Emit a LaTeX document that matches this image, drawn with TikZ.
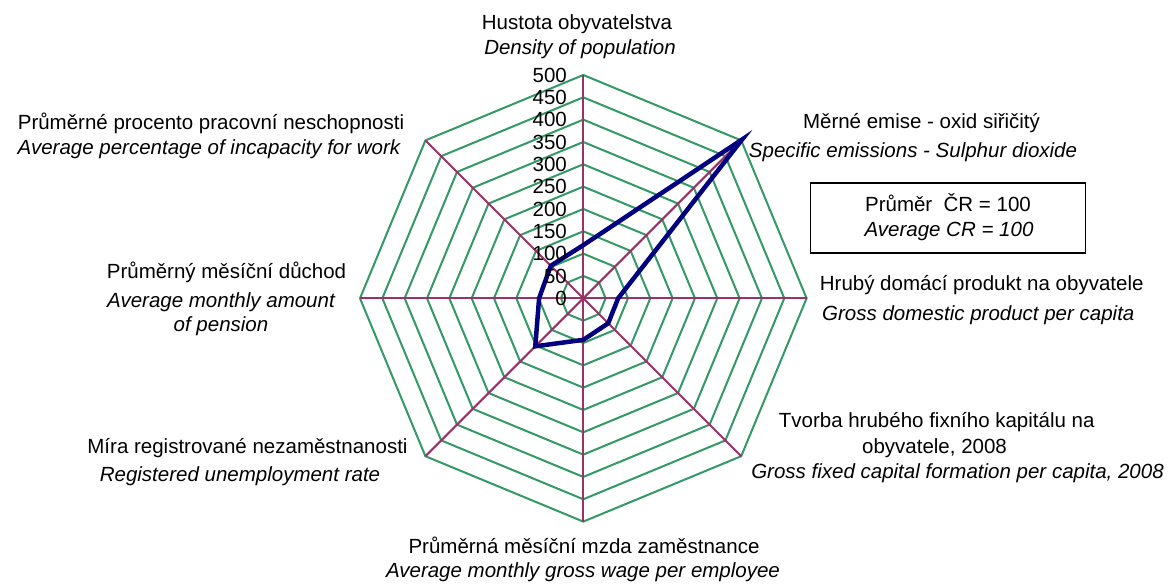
\documentclass[tikz,border=0pt]{standalone}
\usepackage{fontspec}
\setmainfont{Liberation Sans}
\definecolor{ringgreen}{RGB}{51,153,102}
\definecolor{axismaroon}{RGB}{153,51,102}
\definecolor{seriesnavy}{RGB}{0,0,128}
\begin{document}
\begin{tikzpicture}[x=1pt,y=-1pt,
  ring/.style={draw=ringgreen,line width=2pt,line join=miter},
  axisline/.style={draw=axismaroon,line width=2pt},
  series/.style={draw=seriesnavy,line width=4.5pt,line join=miter},
  lbl/.style={anchor=base,inner sep=0pt,font=\fontsize{20.5}{26}\selectfont},
  ilbl/.style={anchor=base,inner sep=0pt,font=\fontsize{20.5}{26}\selectfont\itshape},
  ticklbl/.style={anchor=east,inner sep=0pt,font=\fontsize{20.5}{26}\selectfont},
  legendbox/.style={draw=black,line width=1.3pt,minimum width=275pt,minimum height=70pt,inner sep=0pt},
]
\useasboundingbox (0,0) rectangle (1176,588);
\fill[white] (0,0) rectangle (1176,588);
\begin{scope}[shift={(583.3,298.3)}]
  \foreach \k in {1,...,10}{
    \pgfmathsetmacro{\r}{\k*22.33}
    \draw[ring] (-90:\r) -- (-45:\r) -- (0:\r) -- (45:\r) -- (90:\r) -- (135:\r) -- (180:\r) -- (225:\r) -- cycle;
  }
  \foreach \a in {-90,-45,0,45,90,135,180,225}
    \draw[axisline] (0,0) -- (\a:223.3);
  \draw[series] (-90:{119*0.4466}) -- (-45:{503*0.4466}) -- (0:{78*0.4466}) -- (45:{79*0.4466})
     -- (90:{93*0.4466}) -- (135:{152*0.4466}) -- (180:{99*0.4466}) -- (225:{103*0.4466}) -- cycle;
  \foreach \k in {0,...,10}{
    \pgfmathtruncatemacro{\v}{\k*50}
    \node[ticklbl] (tick\k) at (-16.3,{-\k*22.33}) {\v};
  }
\end{scope}

\node[legendbox] (box) at (947.7,218) {};
\node[lbl] (boxA) at (948,211.5) {Průměr\ \ ČR = 100};
\node[ilbl] (boxB) at (949,236.7) {Average CR = 100};

\node[lbl] (l1a) at (577,30) {Hustota obyvatelstva};
\node[ilbl] (l1b) at (580,55) {Density of population};

\node[lbl] (l2a) at (921.5,128.3) {Měrné emise - oxid siřičitý};
\node[ilbl] (l2b) at (913,158) {Specific emissions - Sulphur dioxide};

\node[lbl] (l3a) at (981.7,290.7) {Hrubý domácí produkt na obyvatele};
\node[ilbl] (l3b) at (978.3,320) {Gross domestic product per capita};

\node[lbl] (l4a) at (936.7,427) {Tvorba hrubého fixního kapitálu na};
\node[lbl] (l4b) at (934.5,453.5) {obyvatele, 2008};
\node[ilbl] (l4c) at (957.5,478) {Gross fixed capital formation per capita, 2008};

\node[lbl] (l5a) at (584,553) {Průměrná měsíční mzda zaměstnance};
\node[ilbl] (l5b) at (583,577.5) {Average monthly gross wage per employee};

\node[lbl] (l6a) at (247.5,453.3) {Míra registrované nezaměstnanosti};
\node[ilbl] (l6b) at (240,481.7) {Registered unemployment rate};

\node[lbl] (l7a) at (226.5,279) {Průměrný měsíční důchod};
\node[ilbl] (l7b) at (221,308) {Average monthly amount};
\node[ilbl] (l7c) at (221,331) {of pension};

\node[lbl] (l8a) at (211,130) {Průměrné procento pracovní neschopnosti};
\node[ilbl] (l8b) at (209,155) {Average percentage of incapacity for work};
\end{tikzpicture}
\end{document}
